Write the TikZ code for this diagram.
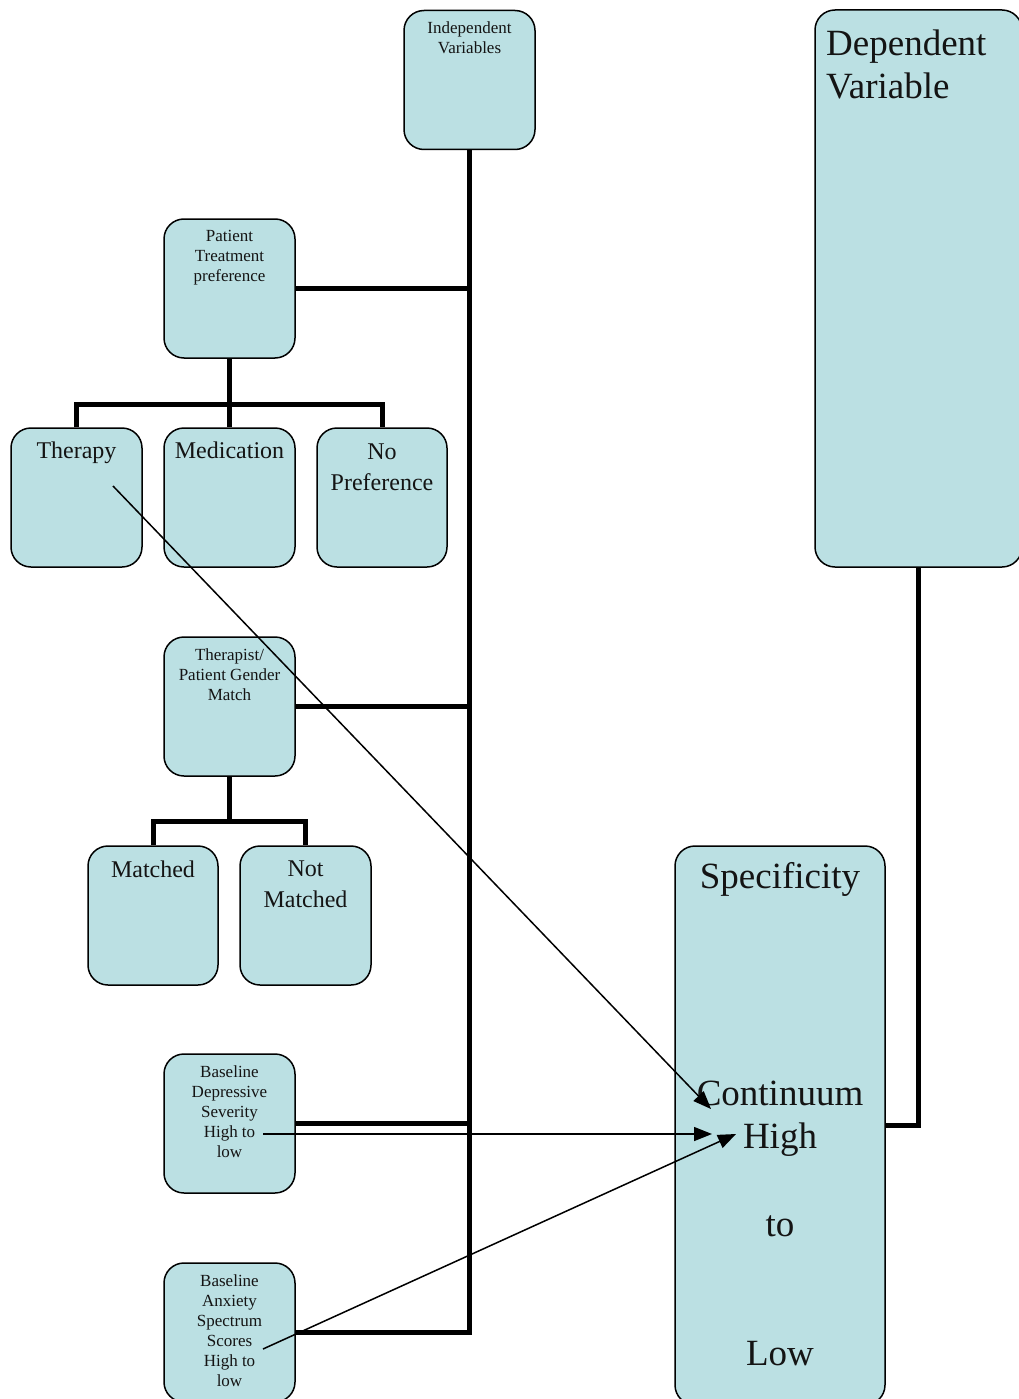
\documentclass[tikz,border=0pt]{standalone}
\usepackage{fontspec}
\setmainfont{Liberation Serif}
\usetikzlibrary{arrows.meta,calc}
\definecolor{boxfill}{RGB}{187,224,227}
\definecolor{txt}{RGB}{20,20,20}
\tikzset{
  box/.style={draw=black, line width=1.5pt, fill=boxfill, rounded corners=20pt,
    minimum width=131pt, minimum height=139pt, inner sep=0pt},
  small/.style={font={\fontsize{17}{20}\selectfont}, text=txt, align=center, inner sep=0pt, anchor=north},
  large/.style={font={\fontsize{24}{31}\selectfont}, text=txt, align=center, inner sep=0pt, anchor=north},
  huge/.style={font={\fontsize{37}{43}\selectfont}, text=txt, inner sep=0pt},
  thick line/.style={line width=5pt},
  thin arrow/.style={line width=1.5pt, -{Triangle[length=18pt,width=14pt]}}
}
\begin{document}
\begin{tikzpicture}[x=1pt,y=-1pt]
\useasboundingbox (0,0) rectangle (1018,1399);
% boxes
\node[box] (iv) at (469.5,80) {};
\node[box] (ptp) at (229.5,288.5) {};
\node[box] (therapy) at (76.5,497.5) {};
\node[box] (med) at (229.5,497.5) {};
\node[box, minimum width=130pt] (nopref) at (382,497.5) {};
\node[box] (gender) at (229.5,706.5) {};
\node[box, minimum width=130pt] (matched) at (153,915.5) {};
\node[box] (notm) at (305.5,915.5) {};
\node[box] (dep) at (229.5,1123.5) {};
\node[box] (anx) at (229.5,1332.5) {};
\node[box, minimum width=210pt, minimum height=559pt] (spec) at (780,1125.5) {};
\node[box, minimum width=207pt, minimum height=557pt] (dv) at (918.5,288.5) {};
% texts
\node[small] (ivt) at (469.5,21.5) {Independent\\Variables};
\node[small] (ptpt) at (229.5,230.5) {Patient\\Treatment\\preference};
\node[large] (therapyt) at (76.5,441.5) {Therapy};
\node[large] (medt) at (229.5,441.5) {Medication};
\node[large] (npt) at (382,443.5) {No\\Preference};
\node[small] (gendert) at (229.5,648.5) {Therapist/\\Patient Gender\\Match};
\node[large] (matchedt) at (153,861) {Matched};
\node[large] (notmt) at (305.5,861) {Not\\Matched};
\node[small] (dept) at (229.5,1065.5) {Baseline\\Depressive\\Severity\\High to\\low};
\node[small] (anxt) at (229.5,1274.5) {Baseline\\Anxiety\\Spectrum\\Scores\\High to\\low};
\node[huge, anchor=base] (s1) at (780,888) {Specificity};
\node[huge, anchor=base] (s2) at (780,1105) {Continuum};
\node[huge, anchor=base] (s3) at (780,1148) {High};
\node[huge, anchor=base] (s4) at (780,1236) {to};
\node[huge, anchor=base] (s5) at (780,1365) {Low};
\node[huge, anchor=north west, align=left] (dvt) at (826,30) {Dependent\\Variable};
% thick connectors
\coordinate (ptpbar) at (229.5,404);
\coordinate (genbar) at (229.5,821);
\draw[thick line] (iv.south) |- (anx.east);
\draw[thick line] (ptp.east) -- (ptp.east -| iv.south);
\draw[thick line] (gender.east) -- (gender.east -| iv.south);
\draw[thick line] (dep.east) -- (dep.east -| iv.south);
\draw[thick line] (ptp.south) -- (ptpbar);
\draw[thick line] (therapy.north) |- (ptpbar) -| (nopref.north);
\draw[thick line] (ptpbar) -- (med.north);
\draw[thick line] (gender.south) -- (genbar);
\draw[thick line] (matched.north) |- (genbar) -| (notm.north);
\draw[thick line] (dv.south) |- (spec.east);
% thin arrows
\coordinate (a1s) at (113,486);
\coordinate (a1e) at (711,1109);
\coordinate (a2s) at (263,1134);
\coordinate (a2e) at (712,1134);
\coordinate (a3s) at (263,1349);
\coordinate (a3e) at (736,1134);
\draw[thin arrow] (a1s) -- (a1e);
\draw[thin arrow] (a2s) -- (a2e);
\draw[thin arrow] (a3s) -- (a3e);
\end{tikzpicture}
\end{document}
